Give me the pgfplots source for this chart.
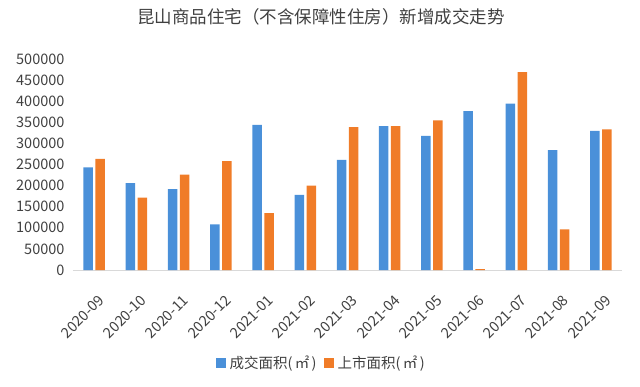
\documentclass[border=0pt]{standalone}
\usepackage{fontspec}
\setmainfont{Noto Sans CJK SC}
\usepackage{pgfplots}
\pgfplotsset{compat=1.18}
\definecolor{cblue}{HTML}{4A90D9}
\definecolor{corange}{HTML}{F07C28}
\definecolor{txt}{HTML}{404040}
\definecolor{axl}{HTML}{D9D9D9}
\begin{document}
\begin{tikzpicture}[x=1pt,y=1pt]
\path[use as bounding box] (0,0) rectangle (640,386);
\begin{axis}[
  at={(73pt,116pt)}, anchor=south west,
  scale only axis, width=549pt, height=211pt,
  xmin=-0.5, xmax=12.5, ymin=0, ymax=500000,
  ybar=2.5pt, bar width=9.5pt,
  axis x line*=bottom, axis y line*=left,
  x axis line style={draw=axl, line width=0.8pt, -},
  y axis line style={draw=none},
  tick style={draw=none},
  xtick={0,...,12},
  xticklabels={2020-09,2020-10,2020-11,2020-12,2021-01,2021-02,2021-03,2021-04,2021-05,2021-06,2021-07,2021-08,2021-09},
  xticklabel style={rotate=45, anchor=north east, yshift=-13pt, xshift=-8pt, font=\fontsize{14.5}{16}\selectfont, text=txt},
  ytick distance=50000,
  scaled y ticks=false,
  yticklabel style={font=\fontsize{14.5}{16}\selectfont, text=txt, xshift=-5pt},
  /pgf/number format/assume math mode=true,
  /pgf/number format/set thousands separator={},
  /pgf/number format/fixed,
  title={昆山商品住宅（不含保障性住房）新增成交走势},
  title style={at={(0.452,1.17)}, anchor=center, font=\fontsize{17.5}{20}\selectfont, text=txt},
  legend style={at={(0.452,-0.44)}, anchor=center, legend columns=2, draw=none, fill=none,
    font=\fontsize{14.5}{16}\selectfont, text=txt,
    /tikz/every odd column/.append style={column sep=2pt},
    /tikz/every even column/.append style={column sep=5pt}},
  legend image code/.code={\fill[#1] (0pt,-5pt) rectangle (10pt,5pt);},
]
\addplot[fill=cblue, draw=none] coordinates {
(0,242900) (1,205700) (2,191500) (3,108400) (4,344100) (5,178000) (6,261100)
(7,341000) (8,318000) (9,376600) (10,394000) (11,284000) (12,329900)};
\addplot[fill=corange, draw=none] coordinates {
(0,263400) (1,171700) (2,226300) (3,257900) (4,134500) (5,200200) (6,338600)
(7,341000) (8,354400) (9,2000) (10,469100) (11,96500) (12,333100)};
\legend{成交面积(\,㎡\,), 上市面积(\,㎡\,)}
\end{axis}
\end{tikzpicture}
\end{document}
